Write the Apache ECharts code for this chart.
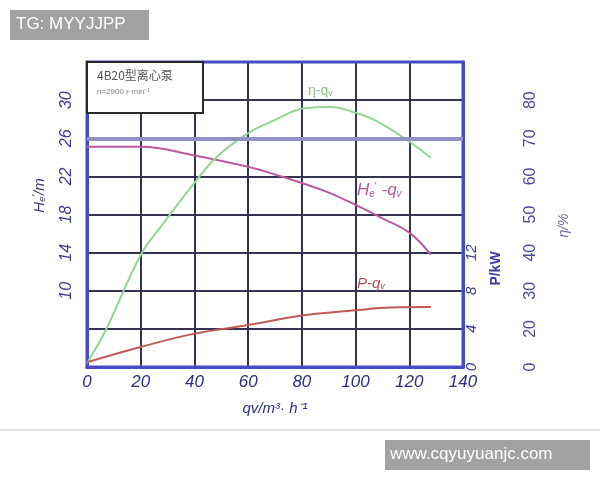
<!DOCTYPE html>
<html><head><meta charset="utf-8">
<script src="https://cdn.jsdelivr.net/npm/echarts@6/dist/echarts.min.js"></script>
<style>html,body{margin:0;padding:0;background:#fff}#c{width:600px;height:480px}</style>
</head><body><div id="c"></div>
<script>
// ---- data ----
const xTicks = [0, 20, 40, 60, 80, 100, 120, 140];
const headTickLabels = [10, 14, 18, 22, 26, 30];
const powerTickLabels = [0, 4, 8, 12];
const effTickValues = [10, 20, 30, 40, 50, 60, 70, 80];
const effTickText = ['0', '20', '30', '40', '50', '60', '70', '80'];

const qHead = [0, 20, 40, 60, 70, 80, 90, 100, 110, 120, 128];
const head  = [25.1, 25.1, 24.2, 23.0, 22.2, 21.3, 20.3, 19.0, 17.6, 16.1, 13.8];

const qEff = [0, 7, 20, 28, 40, 48, 59, 70, 81, 91, 99, 107, 119, 128];
const eff  = [11, 19.7, 39.4, 47.3, 58.3, 64.9, 70.9, 74.8, 77.9, 78.2, 76.9, 74.8, 69.6, 64.9];

const qPower = [0, 20, 40, 60, 80, 100, 113, 128];
const power  = [0.5, 2.1, 3.5, 4.4, 5.4, 5.95, 6.25, 6.3];

const refHeadLine = 26;
const titleText = '4B20型离心泵';
const subText = 'n=2900 r·min⁻¹';

const zip = (a, b) => a.map((v, i) => [v, b[i]]);
const FONT = 'Liberation Sans';
const BORDER = '#4a4ac6';
const GRIDC = '#34344f';
const NAVY = '#2e2e80';

const chart = echarts.init(document.getElementById('c'), null, {renderer: 'canvas'});
chart.setOption({
  backgroundColor: '#ffffff',
  animation: false,
  grid: {left: 87, right: 137, top: 62, bottom: 113, show: true, borderColor: BORDER, borderWidth: 3, backgroundColor: 'transparent', z: 3},
  xAxis: {
    type: 'value', min: 0, max: 140, interval: 20,
    axisLine: {show: true, lineStyle: {color: BORDER, width: 3}},
    axisTick: {show: false},
    splitLine: {show: true, lineStyle: {color: GRIDC, width: 2}},
    axisLabel: {fontSize: 17, fontStyle: 'italic', color: NAVY, margin: 7, fontFamily: FONT,
      formatter: v => xTicks.includes(v) ? String(v) : ''},
    name: 'qv/m³· h⁻¹', nameLocation: 'middle', nameGap: 34,
    nameTextStyle: {fontSize: 15, color: NAVY, fontFamily: FONT, fontStyle: 'italic'}
  },
  yAxis: [
    { // head H
      type: 'value', position: 'left', min: 2, max: 34, interval: 2,
      axisLine: {show: true, lineStyle: {color: BORDER, width: 3}},
      axisTick: {show: false}, splitLine: {show: false},
      axisLabel: {rotate: 90, fontSize: 16, fontStyle: 'italic', color: '#3a3a8a', margin: 12, fontFamily: FONT,
        formatter: v => headTickLabels.includes(v) ? String(v) : ''},
      name: '{m|H}{s|e}{p|\'}{m|/m}', nameLocation: 'middle', nameGap: 40,
      nameTextStyle: {color: '#3a3a7a', fontFamily: FONT, fontStyle: 'italic', padding: [0, 0, 0, 38],
        rich: {m: {fontSize: 15, fontStyle: 'italic', color: '#3a3a7a', fontFamily: FONT},
               s: {fontSize: 9, verticalAlign: 'bottom', color: '#3a3a7a', fontFamily: FONT},
               p: {fontSize: 10, verticalAlign: 'top', color: '#3a3a7a', fontFamily: FONT}}}
    },
    { // power P
      type: 'value', position: 'right', min: 0, max: 32, interval: 4,
      axisLine: {show: true, lineStyle: {color: BORDER, width: 3}},
      axisTick: {show: false},
      splitLine: {show: true, lineStyle: {color: GRIDC, width: 2}},
      axisLabel: {rotate: 90, fontSize: 15, fontStyle: 'italic', color: '#3a3a8a', margin: 1, fontFamily: FONT,
        formatter: v => powerTickLabels.includes(v) ? String(v) : ''},
      name: 'P/kW', nameLocation: 'middle', nameGap: 26,
      nameTextStyle: {fontSize: 14, color: '#3a3a9a', fontFamily: FONT, fontWeight: 'bold', padding: [0, 108, 0, 0]}
    },
    { // efficiency eta
      type: 'value', position: 'right', offset: 60, min: 10, max: 90, interval: 10,
      axisLine: {show: false}, axisTick: {show: false}, splitLine: {show: false},
      axisLabel: {rotate: 90, fontSize: 16, color: '#4a4a9a', margin: 0, fontFamily: FONT,
        formatter: v => { const i = effTickValues.indexOf(v); return i >= 0 ? effTickText[i] : ''; }},
      name: 'η/%', nameLocation: 'middle', nameGap: 34,
      nameTextStyle: {fontSize: 14, color: '#6a6a9a', fontFamily: FONT, fontStyle: 'italic', padding: [0, 22, 0, 0]}
    }
  ],
  series: [
    {
      name: 'H-q', type: 'line', yAxisIndex: 0, data: zip(qHead, head), smooth: 0.4,
      symbol: 'none', lineStyle: {color: '#bb5a9c', width: 2}, z: 4,
      markLine: {silent: true, symbol: 'none', label: {show: false},
        lineStyle: {color: '#9090c2', width: 4, type: 'solid'}, data: [{yAxis: refHeadLine}]}
    },
    {
      name: 'eta-q', type: 'line', yAxisIndex: 2, data: zip(qEff, eff), smooth: 0.4,
      symbol: 'none', lineStyle: {color: '#94d494', width: 2}, z: 4
    },
    {
      name: 'P-q', type: 'line', yAxisIndex: 1, data: zip(qPower, power), smooth: 0.4,
      symbol: 'none', lineStyle: {color: '#c05a5a', width: 2}, z: 4
    }
  ],
  graphic: [
    {type: 'line', shape: {x1: 0, y1: 430, x2: 600, y2: 430}, style: {stroke: '#e2e2e2', lineWidth: 2}, z: 0},
    {type: 'rect', shape: {x: 87, y: 62, width: 116, height: 51},
      style: {fill: '#ffffff', stroke: '#2a2a2a', lineWidth: 2}, z: 50},
    {type: 'text', x: 97, y: 69, z: 51,
      style: {text: titleText, fontSize: 12, fill: '#555', fontFamily: 'Noto Sans CJK SC'}},
    {type: 'text', x: 97, y: 88, z: 51,
      style: {text: subText, fontSize: 8, fill: '#888', fontFamily: FONT}},
    {type: 'text', x: 308, y: 84, z: 51,
      style: {text: '{m|η-q}{s|v}', rich: {
        m: {fontSize: 14, fill: '#86c886', fontFamily: FONT},
        s: {fontSize: 9, fill: '#86c886', fontFamily: FONT, verticalAlign: 'bottom'}}}},
    {type: 'text', x: 357, y: 182, z: 51,
      style: {text: '{m|H}{s|e}{p|\'}{m| -q}{s|v}', rich: {
        m: {fontSize: 17, fontStyle: 'italic', fill: '#b05a98', fontFamily: FONT},
        s: {fontSize: 10, fontStyle: 'italic', fill: '#b05a98', fontFamily: FONT, verticalAlign: 'bottom'},
        p: {fontSize: 10, fill: '#b05a98', fontFamily: FONT, verticalAlign: 'top'}}}},
    {type: 'text', x: 357, y: 276, z: 51,
      style: {text: '{m|P-q}{s|v}', rich: {
        m: {fontSize: 15, fontStyle: 'italic', fill: '#b05050', fontFamily: FONT},
        s: {fontSize: 9, fontStyle: 'italic', fill: '#b05050', fontFamily: FONT, verticalAlign: 'bottom'}}}},
    {type: 'rect', shape: {x: 10, y: 10, width: 139, height: 30}, style: {fill: '#a2a2a2'}, z: 60},
    {type: 'text', x: 16, y: 16, z: 61,
      style: {text: 'TG: MYYJJPP', fontSize: 17, fill: '#ffffff', fontFamily: FONT}},
    {type: 'rect', shape: {x: 385, y: 440, width: 205, height: 30}, style: {fill: '#a2a2a2'}, z: 60},
    {type: 'text', x: 390, y: 446, z: 61,
      style: {text: 'www.cqyuyuanjc.com', fontSize: 17, fill: '#ffffff', fontFamily: FONT}}
  ]
});
</script>
</body></html>
